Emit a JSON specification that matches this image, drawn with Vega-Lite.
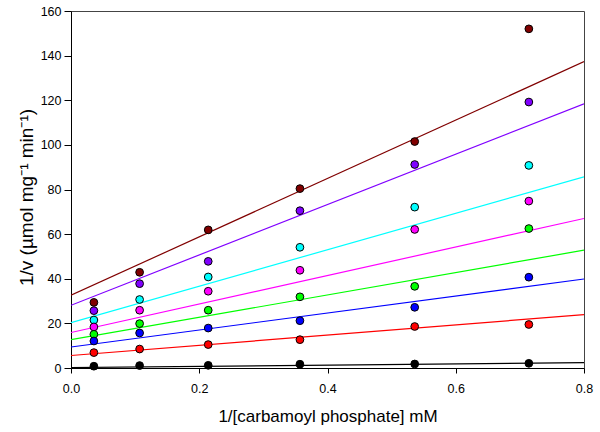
{
  "$schema": "https://vega.github.io/schema/vega-lite/v6.json",
  "width": 513,
  "height": 357,
  "autosize": {"type": "none"},
  "padding": {"left": 71, "top": 11, "right": 16, "bottom": 64},
  "background": "white",
  "config": {
    "view": {"stroke": "#444", "strokeWidth": 1},
    "font": "Liberation Sans",
    "axis": {
      "grid": false,
      "labelFlush": false,
      "labelOverlap": false,
      "domainColor": "black",
      "tickColor": "black",
      "labelColor": "black",
      "titleColor": "black",
      "labelFont": "Liberation Sans",
      "titleFont": "Liberation Sans",
      "labelFontSize": 12.5,
      "titleFontWeight": "normal"
    }
  },
  "datasets": {
    "points": [
      {"x": 0.0357, "y": 29.4, "s": "A"}, {"x": 0.107, "y": 42.9, "s": "A"}, {"x": 0.214, "y": 61.9, "s": "A"}, {"x": 0.357, "y": 80.4, "s": "A"}, {"x": 0.536, "y": 101.5, "s": "A"}, {"x": 0.714, "y": 152.0, "s": "A"},
      {"x": 0.0357, "y": 25.7, "s": "B"}, {"x": 0.107, "y": 37.8, "s": "B"}, {"x": 0.214, "y": 47.8, "s": "B"}, {"x": 0.357, "y": 70.5, "s": "B"}, {"x": 0.536, "y": 91.2, "s": "B"}, {"x": 0.714, "y": 119.2, "s": "B"},
      {"x": 0.0357, "y": 21.5, "s": "C"}, {"x": 0.107, "y": 30.7, "s": "C"}, {"x": 0.214, "y": 40.8, "s": "C"}, {"x": 0.357, "y": 54.1, "s": "C"}, {"x": 0.536, "y": 72.1, "s": "C"}, {"x": 0.714, "y": 90.8, "s": "C"},
      {"x": 0.0357, "y": 18.4, "s": "D"}, {"x": 0.107, "y": 25.9, "s": "D"}, {"x": 0.214, "y": 34.4, "s": "D"}, {"x": 0.357, "y": 43.8, "s": "D"}, {"x": 0.536, "y": 62.1, "s": "D"}, {"x": 0.714, "y": 74.8, "s": "D"},
      {"x": 0.0357, "y": 15.1, "s": "E"}, {"x": 0.107, "y": 19.9, "s": "E"}, {"x": 0.214, "y": 25.9, "s": "E"}, {"x": 0.357, "y": 31.9, "s": "E"}, {"x": 0.536, "y": 36.6, "s": "E"}, {"x": 0.714, "y": 62.5, "s": "E"},
      {"x": 0.0357, "y": 12.1, "s": "F"}, {"x": 0.107, "y": 15.7, "s": "F"}, {"x": 0.214, "y": 17.9, "s": "F"}, {"x": 0.357, "y": 21.2, "s": "F"}, {"x": 0.536, "y": 27.2, "s": "F"}, {"x": 0.714, "y": 40.7, "s": "F"},
      {"x": 0.0357, "y": 6.9, "s": "G"}, {"x": 0.107, "y": 8.5, "s": "G"}, {"x": 0.214, "y": 10.5, "s": "G"}, {"x": 0.357, "y": 12.7, "s": "G"}, {"x": 0.536, "y": 18.6, "s": "G"}, {"x": 0.714, "y": 19.5, "s": "G"},
      {"x": 0.0357, "y": 0.8, "s": "H"}, {"x": 0.107, "y": 1.1, "s": "H"}, {"x": 0.214, "y": 1.2, "s": "H"}, {"x": 0.357, "y": 1.7, "s": "H"}, {"x": 0.536, "y": 1.8, "s": "H"}, {"x": 0.714, "y": 2.1, "s": "H"}
    ],
    "lines": [
      {"x": 0, "y": 32.6, "s": "A"}, {"x": 0.8, "y": 137.3, "s": "A"},
      {"x": 0, "y": 28.1, "s": "B"}, {"x": 0.8, "y": 118.4, "s": "B"},
      {"x": 0, "y": 20.3, "s": "C"}, {"x": 0.8, "y": 85.7, "s": "C"},
      {"x": 0, "y": 15.9, "s": "D"}, {"x": 0.8, "y": 67.0, "s": "D"},
      {"x": 0, "y": 12.7, "s": "E"}, {"x": 0.8, "y": 52.8, "s": "E"},
      {"x": 0, "y": 9.4, "s": "F"}, {"x": 0.8, "y": 39.9, "s": "F"},
      {"x": 0, "y": 5.6, "s": "G"}, {"x": 0.8, "y": 23.9, "s": "G"},
      {"x": 0, "y": 0.2, "s": "H"}, {"x": 0.8, "y": 2.4, "s": "H"}
    ]
  },
  "encoding": {
    "x": {
      "field": "x", "type": "quantitative",
      "scale": {"domain": [0, 0.8], "nice": false, "zero": false},
      "axis": {"values": [0, 0.2, 0.4, 0.6, 0.8], "format": ".1f", "title": "1/[carbamoyl phosphate] mM",
               "tickSize": 5, "labelPadding": 9, "titleFontSize": 17, "titleY": 53, "titleBaseline": "alphabetic"}
    },
    "y": {
      "field": "y", "type": "quantitative",
      "scale": {"domain": [0, 160], "nice": false},
      "axis": {"values": [0, 20, 40, 60, 80, 100, 120, 140, 160], "title": "1/v (µmol mg⁻¹ min⁻¹)",
               "tickSize": 7, "labelPadding": 3, "titleFontSize": 19, "titleX": -45, "titleY": 186,
               "titleAngle": -90, "titleAlign": "center", "titleBaseline": "middle"}
    },
    "color": {
      "field": "s", "type": "nominal", "legend": null,
      "scale": {"domain": ["A", "B", "C", "D", "E", "F", "G", "H"],
                "range": ["#800000", "#8000FF", "#00FFFF", "#FF00FF", "#00FF00", "#0000FF", "#FF0000", "#000000"]}
    }
  },
  "layer": [
    {
      "data": {"name": "lines"},
      "mark": {"type": "line", "strokeWidth": 1.2, "clip": true},
      "encoding": {"detail": {"field": "s"}}
    },
    {
      "data": {"name": "points"},
      "mark": {"type": "point", "shape": "circle", "filled": true, "size": 60, "stroke": "black", "strokeWidth": 1, "opacity": 1},
      "encoding": {
        "fill": {
          "field": "s", "type": "nominal", "legend": null,
          "scale": {"domain": ["A", "B", "C", "D", "E", "F", "G", "H"],
                    "range": ["#800000", "#8000FF", "#00FFFF", "#FF00FF", "#00FF00", "#0000FF", "#FF0000", "#000000"]}
        }
      }
    }
  ]
}
